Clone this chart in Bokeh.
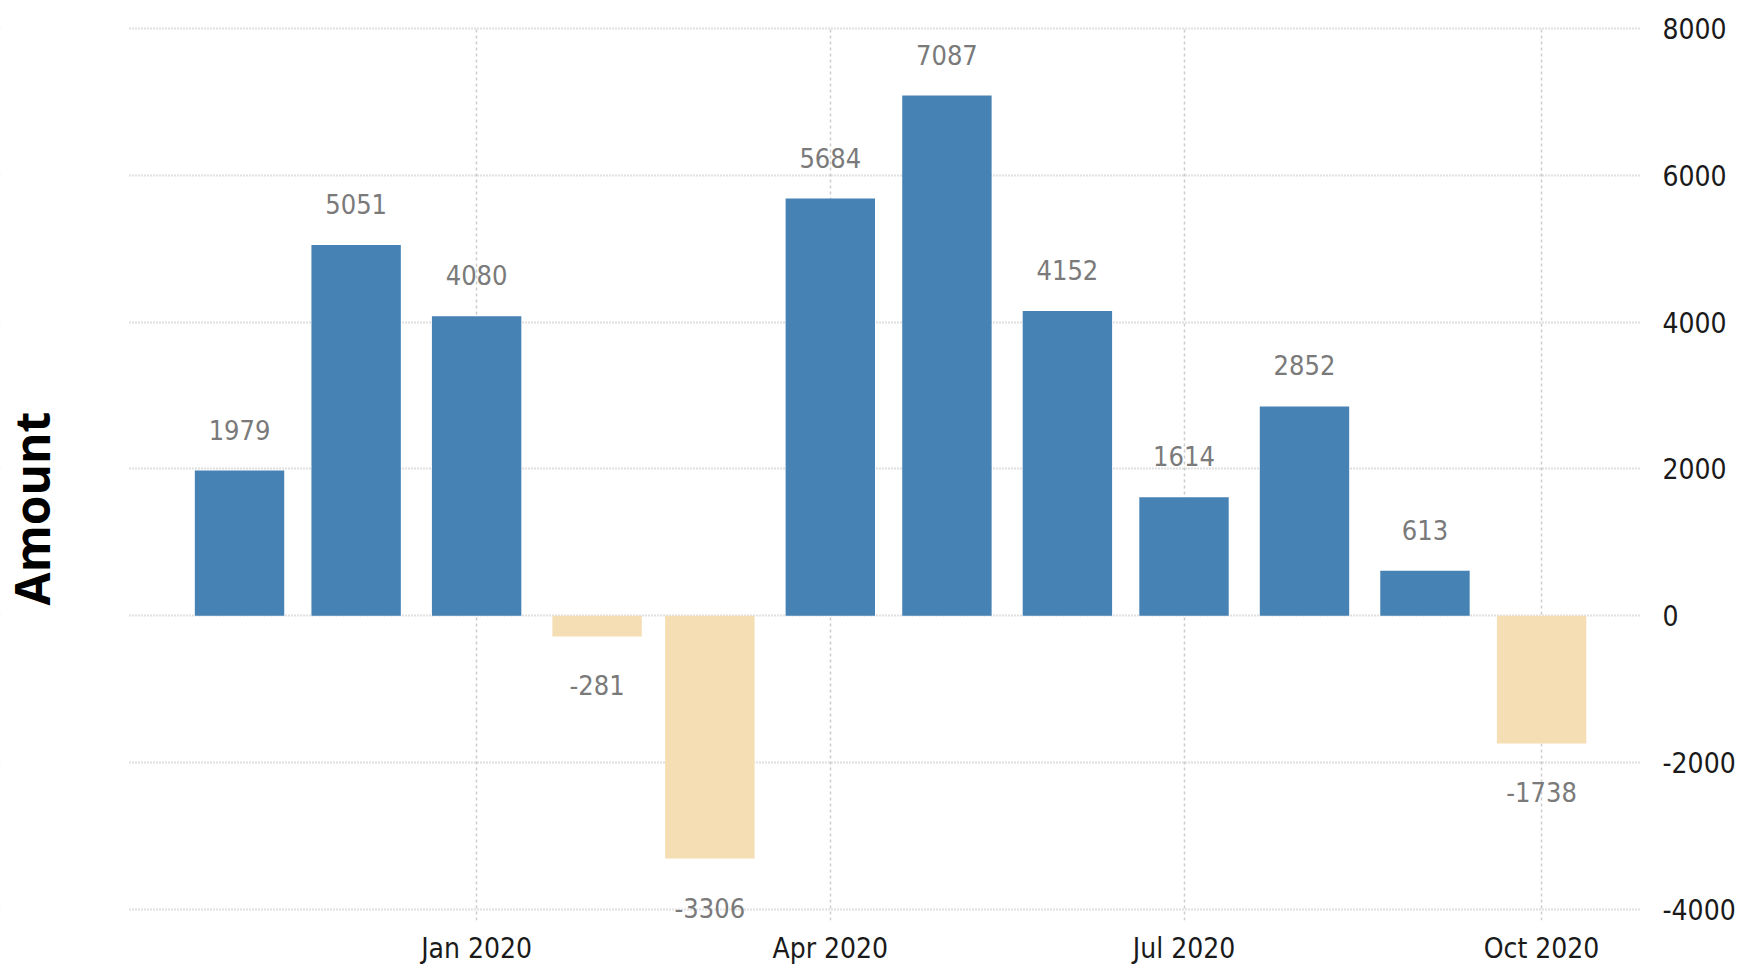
from datetime import datetime, timedelta
import math
from bokeh.plotting import figure
from bokeh.models import (ColumnDataSource, Range1d, DatetimeTickFormatter, Label,
                          FixedTicker, BoxAnnotation)
from bokeh.core.properties import value
from bokeh.embed import file_html
from bokeh.resources import INLINE

# ---- data ----
months = ["2019-11", "2019-12", "2020-01", "2020-02", "2020-03", "2020-04",
          "2020-05", "2020-06", "2020-07", "2020-08", "2020-09", "2020-10"]
values = [1979, 5051, 4080, -281, -3306, 5684, 7087, 4152, 1614, 2852, 613, -1738]
y_ticks = [-4000, -2000, 0, 2000, 4000, 6000, 8000]
x_tick_dates = ["2020-01-01", "2020-04-01", "2020-07-01", "2020-10-01"]

POS = "#4682B4"
NEG = "#F5DEB3"
NARROW = "DejaVu Sans Condensed, Liberation Sans Narrow, Roboto, sans-serif"

EPOCH = datetime(1970, 1, 1)


def ms(d):
    return (d - EPOCH).total_seconds() * 1000.0


dates = [datetime.strptime(m + "-01", "%Y-%m-%d") for m in months]
src = ColumnDataSource(dict(
    x=dates,
    top=values,
    color=[POS if v >= 0 else NEG for v in values],
    label=[str(v) for v in values],
    yoff=[-41 if v >= 0 else 49 for v in values],
))

# visible plotting area (grid extent) and full frame extent
grid_start = datetime(2019, 10, 3, 10)
grid_end = datetime(2020, 10, 26, 17)
frame_start = datetime(2019, 8, 31, 12)

W, H = 1741, 967
p = figure(width=W, height=H, x_axis_type="datetime", y_axis_location="right",
           output_backend="svg", toolbar_location=None,
           x_range=Range1d(frame_start, grid_end),
           y_range=Range1d(-4150, 8027),
           min_border_left=0, min_border_right=100, min_border_top=26, min_border_bottom=47)
p.outline_line_color = None
p.background_fill_color = "white"
p.border_fill_color = "white"

bar_w = timedelta(days=23).total_seconds() * 1000
p.vbar(x="x", top="top", bottom=0, width=bar_w, color="color", line_color=None, source=src)
p.text(x="x", y="top", text="label", y_offset="yoff", source=src,
       text_align="center", text_baseline="middle",
       text_font=value(NARROW), text_font_size="27px", text_color="#7a7a7a")

# axes
p.yaxis.ticker = FixedTicker(ticks=y_ticks)
p.yaxis.major_label_overrides = {t: str(t) for t in y_ticks}
p.yaxis.axis_line_color = None
p.yaxis.major_tick_line_color = None
p.yaxis.minor_tick_line_color = None
p.yaxis.major_label_standoff = 15
p.yaxis.major_label_text_font = NARROW
p.yaxis.major_label_text_font_size = "28px"
p.yaxis.major_label_text_color = "#1a1a1a"

p.xaxis.ticker = FixedTicker(ticks=[ms(datetime.strptime(d, "%Y-%m-%d")) for d in x_tick_dates])
fmt = "%b %Y"
p.xaxis.formatter = DatetimeTickFormatter(days=fmt, months=fmt, years=fmt, hours=fmt,
                                          minutes=fmt, seconds=fmt, milliseconds=fmt,
                                          microseconds=fmt, minsec=fmt, hourmin=fmt)
p.xaxis.axis_line_color = None
p.xaxis.major_tick_line_color = None
p.xaxis.minor_tick_line_color = None
p.xaxis.major_label_standoff = 5
p.xaxis.major_label_text_font = NARROW
p.xaxis.major_label_text_font_size = "28px"
p.xaxis.major_label_text_color = "#1a1a1a"

p.ygrid.grid_line_color = "#c0c0c0"
p.ygrid.grid_line_dash = "1 2"
p.ygrid.grid_line_width = 2
p.xgrid.grid_line_color = "#cccccc"
p.xgrid.grid_line_dash = "3 3"
p.xgrid.grid_line_width = 1.5

# blank margin left of the grid area (where the axis title sits)
p.add_layout(BoxAnnotation(left=ms(frame_start - timedelta(days=10)), right=ms(grid_start),
                           fill_color="white", fill_alpha=1.0, line_color=None))

p.add_layout(Label(x=31, y=412, x_units="screen", y_units="screen", text="Amount",
                   angle=math.pi / 2, text_align="center", text_baseline="middle",
                   text_font="Open Sans", text_font_style="bold", text_font_size="48px",
                   text_color="black"))

open("out.html", "w").write(file_html(p, INLINE))
